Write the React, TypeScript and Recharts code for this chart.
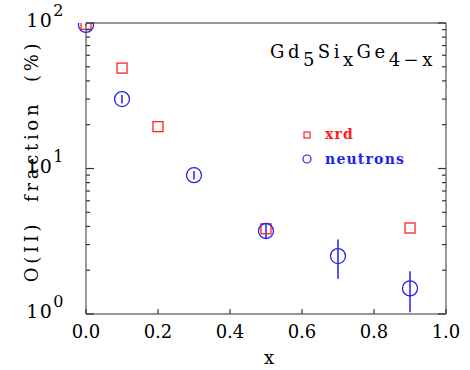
import React from 'react';
import { ScatterChart, Scatter, XAxis, YAxis, ErrorBar, Customized } from 'recharts';

const xTicks = [0, 0.2, 0.4, 0.6, 0.8, 1.0];
const yTicks = [1, 2, 3, 4, 5, 6, 7, 8, 9, 10, 20, 30, 40, 50, 60, 70, 80, 90, 100];
const decades = [1, 10, 100];

const xrdX = [0, 0.1, 0.2, 0.5, 0.9];
const xrdY = [98, 49, 19.4, 3.85, 3.9];

const neutX = [0, 0.1, 0.3, 0.5, 0.7, 0.9];
const neutY = [97, 30, 9.0, 3.72, 2.5, 1.5];
const neutErr = [1, 2, 0.6, 0.4, 0.75, 0.47];

const xrd = xrdX.map((x, i) => ({ x, y: xrdY[i] }));
const neutrons = neutX.map((x, i) => ({ x, y: neutY[i], err: neutErr[i] }));

const FONT = 'DejaVu Serif';
const AXIS = '#333';
const RED = '#ff2020';
const BLUE = '#2222ee';
// default tickSize (6) + tickMargin (2): where recharts puts the tick anchor
const OFF = 8;

const BottomTick = (props: any) => {
  const { x, y, payload } = props;
  const ay = y - OFF;
  return (
    <g>
      <line x1={x} y1={ay} x2={x} y2={ay - 5} stroke={AXIS} strokeWidth={1.2} />
      <text x={x} y={ay + 24} textAnchor="middle" fontFamily={FONT} fontSize={18} fill="#000">
        {payload.value.toFixed(1)}
      </text>
    </g>
  );
};

const TopTick = (props: any) => {
  const { x, y } = props;
  const ay = y + OFF;
  return <line x1={x} y1={ay} x2={x} y2={ay + 5} stroke={AXIS} strokeWidth={1.2} />;
};

const LeftTick = (props: any) => {
  const { x, y, payload } = props;
  const ax = x + OFF;
  const major = decades.includes(payload.value);
  const exp = Math.round(Math.log10(payload.value));
  return (
    <g>
      <line x1={ax} y1={y} x2={ax + (major ? 8 : 4)} y2={y} stroke={AXIS} strokeWidth={1.2} />
      {major && (
        <text x={ax - 21} y={y + 4} textAnchor="end" fontFamily={FONT} fontSize={19} letterSpacing={1.5} fill="#000">
          10
          <tspan dx={0} dy={-11} fontSize={16}>{exp}</tspan>
        </text>
      )}
    </g>
  );
};

const RightTick = (props: any) => {
  const { x, y, payload } = props;
  const ax = x - OFF;
  const major = decades.includes(payload.value);
  return <line x1={ax} y1={y} x2={ax - (major ? 8 : 4)} y2={y} stroke={AXIS} strokeWidth={1.2} />;
};

const Square = (props: any) => {
  const { cx, cy } = props;
  return <rect x={cx - 5} y={cy - 5} width={10} height={10} fill="none" stroke={RED} strokeWidth={1.3} />;
};

const Ring = (props: any) => {
  const { cx, cy } = props;
  return <circle cx={cx} cy={cy} r={7.5} fill="none" stroke={BLUE} strokeWidth={1.3} />;
};

const Annotations = () => (
  <g fontFamily={FONT}>
    <text x={270} y={58} fontSize={18} letterSpacing={3.5} fill="#000">
      Gd<tspan dy={8}>5</tspan>
      <tspan dy={-8}>Si</tspan>
      <tspan dy={8}>x</tspan>
      <tspan dy={-8}>Ge</tspan>
      <tspan dy={8}>4−x</tspan>
    </text>
    <rect x={304} y={132} width={6} height={6} fill="none" stroke={RED} strokeWidth={1.2} />
    <text x={325} y={139} fontSize={14} fontWeight="bold" letterSpacing={1.2} fill={RED}>xrd</text>
    <circle cx={307} cy={159} r={4} fill="none" stroke={BLUE} strokeWidth={1.2} />
    <text x={325} y={164} fontSize={14} fontWeight="bold" letterSpacing={1.2} fill={BLUE}>neutrons</text>
    <text x={269} y={364} fontSize={18} textAnchor="middle" fill="#000">x</text>
    <text
      x={38}
      y={161}
      fontSize={18}
      letterSpacing={3.7}
      textAnchor="middle"
      fill="#000"
      transform="rotate(-90 38 161)"
      style={{ whiteSpace: 'pre' }}
    >
      {'O(II)  fraction  (%)'}
    </text>
  </g>
);

export default function App() {
  return (
    <div style={{ position: 'absolute', left: 0, top: 0 }}>
      <ScatterChart width={470} height={370} margin={{ top: 22, right: 23, bottom: 0, left: 0 }}>
        <XAxis
          xAxisId="b"
          dataKey="x"
          type="number"
          domain={[0, 1]}
          ticks={xTicks}
          interval={0}
          height={56}
          stroke={AXIS}
          tickLine={{ stroke: 'none' }}
          tick={<BottomTick />}
        />
        <XAxis
          xAxisId="t"
          orientation="top"
          type="number"
          domain={[0, 1]}
          ticks={xTicks}
          interval={0}
          height={1}
          stroke={AXIS}
          tickLine={{ stroke: 'none' }}
          tick={<TopTick />}
        />
        <YAxis
          yAxisId="l"
          dataKey="y"
          type="number"
          scale="log"
          domain={[1, 100]}
          allowDataOverflow
          ticks={yTicks}
          interval={0}
          width={86}
          stroke={AXIS}
          tickLine={{ stroke: 'none' }}
          tick={<LeftTick />}
        />
        <YAxis
          yAxisId="r"
          orientation="right"
          type="number"
          scale="log"
          domain={[1, 100]}
          allowDataOverflow
          ticks={yTicks}
          interval={0}
          width={1}
          stroke={AXIS}
          tickLine={{ stroke: 'none' }}
          tick={<RightTick />}
        />
        <Scatter data={xrd} xAxisId="b" yAxisId="l" shape={<Square />} isAnimationActive={false} />
        <Scatter data={neutrons} xAxisId="b" yAxisId="l" shape={<Ring />} isAnimationActive={false}>
          <ErrorBar dataKey="err" direction="y" width={0} stroke={BLUE} strokeWidth={1.5} />
        </Scatter>
        <Customized component={<Annotations />} />
      </ScatterChart>
    </div>
  );
}
